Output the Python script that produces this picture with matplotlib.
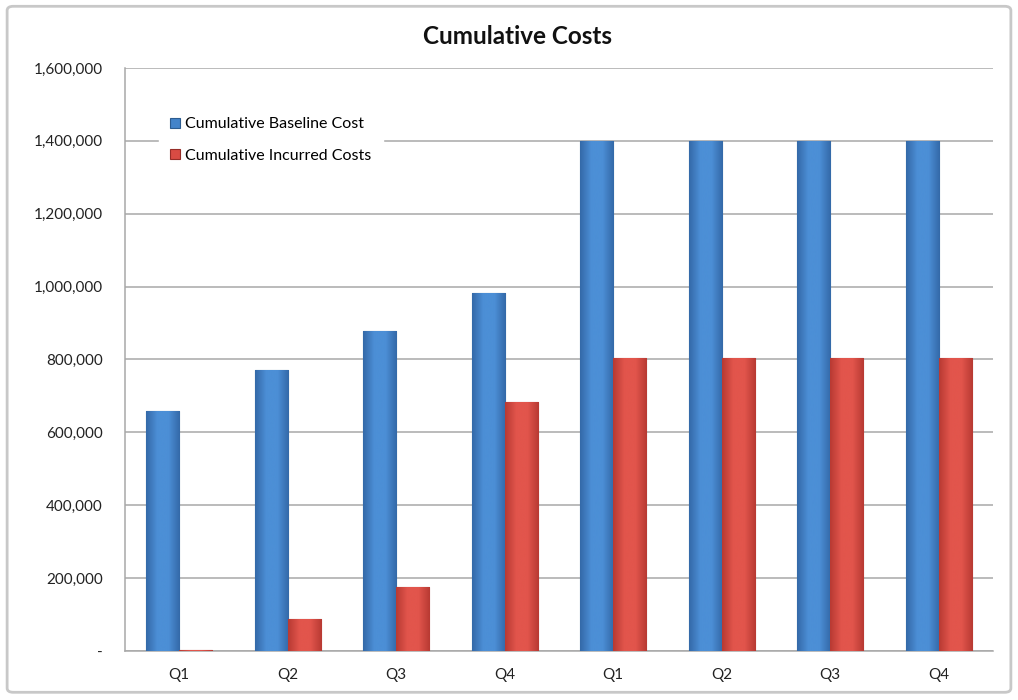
import matplotlib
matplotlib.use('Agg')
import matplotlib.pyplot as plt
import matplotlib.patches as patches
from matplotlib.colors import LinearSegmentedColormap
import numpy as np

plt.rcParams['font.family'] = ['Lato', 'DejaVu Sans']

quarters = ['Q1', 'Q2', 'Q3', 'Q4', 'Q1', 'Q2', 'Q3', 'Q4']
baseline_cost = [660000, 770000, 877000, 983000, 1400000, 1400000, 1400000, 1400000]
incurred_cost = [4000, 88000, 177000, 684000, 804000, 804000, 804000, 804000]
y_ticks = [0, 200000, 400000, 600000, 800000, 1000000, 1200000, 1400000, 1600000]
y_labels = ['-', '200,000', '400,000', '600,000', '800,000',
            '1,000,000', '1,200,000', '1,400,000', '1,600,000']


def shade_bars(ax, bars, dark, light):
    # horizontal gradient inside each bar, dark edges and light middle
    cmap = LinearSegmentedColormap.from_list('g', [dark, light, light, dark])
    grad = np.linspace(0, 1, 64).reshape(1, -1)
    for b in bars:
        x0, w, h = b.get_x(), b.get_width(), b.get_height()
        if h <= 0:
            continue
        im = ax.imshow(grad, cmap=cmap, aspect='auto', zorder=3.5,
                       extent=(x0, x0 + w, 0, h), interpolation='bicubic')
        im.set_clip_path(b)


def main():
    fig = plt.figure(figsize=(10.18, 7.0), dpi=100)
    fig.patch.set_facecolor('white')

    # light grey frame round the whole chart
    frame = patches.FancyBboxPatch(
        (0.007, 0.011), 0.986, 0.98,
        boxstyle='round,pad=0,rounding_size=0.006',
        transform=fig.transFigure, facecolor='none',
        edgecolor='#C8C8C8', linewidth=2.0)
    fig.patches.append(frame)

    ax = fig.add_axes([0.1228, 0.07, 0.8526, 0.8329])

    x = np.arange(len(quarters))
    w = 0.305
    blue = ax.bar(x - w / 2, baseline_cost, width=w, color='#4384CA',
                  edgecolor='#2C5C90', linewidth=0.8, zorder=3,
                  label='Cumulative Baseline Cost')
    red = ax.bar(x + w / 2, incurred_cost, width=w, color='#D94B43',
                 edgecolor='#962D28', linewidth=0.8, zorder=3,
                 label='Cumulative Incurred Costs')
    shade_bars(ax, blue, '#3469A8', '#4C8FD6')
    shade_bars(ax, red, '#B83A33', '#E2554C')

    ax.set_xlim(-0.5, len(quarters) - 0.5)
    ax.set_ylim(0, 1600000)
    ax.set_yticks(y_ticks)
    ax.set_yticklabels(y_labels)
    ax.set_xticks(x)
    ax.set_xticklabels(quarters)
    ax.tick_params(axis='both', length=0, labelsize=11, colors='#222222')
    ax.tick_params(axis='y', pad=16)
    ax.tick_params(axis='x', pad=12)

    ax.yaxis.grid(True, color='#A8A8A8', linewidth=1.1, zorder=0)
    ax.set_axisbelow(True)
    for side in ['top', 'right']:
        ax.spines[side].set_visible(False)
    for side in ['left', 'bottom']:
        ax.spines[side].set_color('#A8A8A8')
        ax.spines[side].set_linewidth(1.1)

    leg = ax.legend(loc='upper left', bbox_to_anchor=(0.03, 0.948),
                    frameon=True, fontsize=11.5, handlelength=0.6,
                    handleheight=0.6, handletextpad=0.35, labelspacing=1.1,
                    borderpad=0.7)
    leg.get_frame().set_facecolor('white')
    leg.get_frame().set_edgecolor('white')
    leg.get_frame().set_alpha(1.0)

    fig.text(0.508, 0.948, 'Cumulative Costs', ha='center', va='center',
             fontsize=17.5, fontweight='bold', color='#111111')

    fig.savefig('out.png', dpi=100)


if __name__ == '__main__':
    main()
